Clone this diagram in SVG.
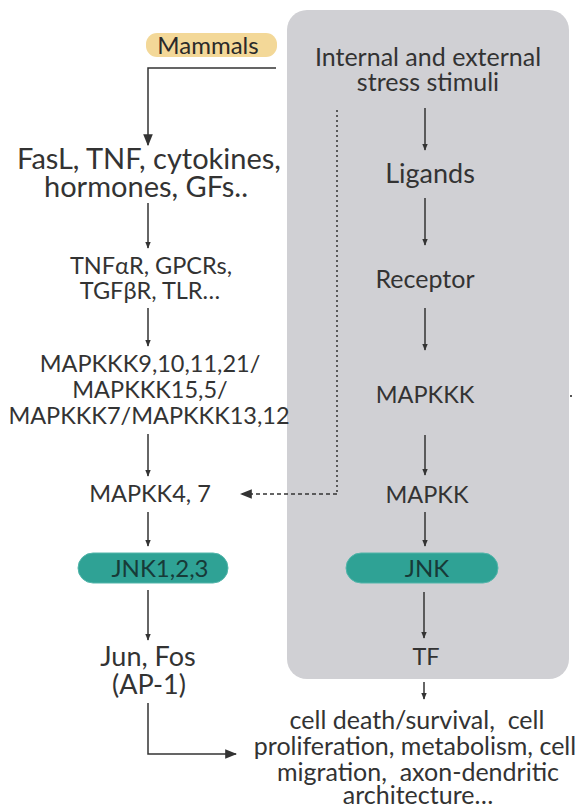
<svg xmlns="http://www.w3.org/2000/svg" width="583" height="809" viewBox="0 0 583 809">
<defs>
<style>
text{font-family:Lato,"Open Sans","Liberation Sans",sans-serif;fill:#333;text-anchor:middle}
.big{font-size:29px}
.mid{font-size:23.5px}
.rt{font-size:25px}
.ln{stroke:#333;stroke-width:1.5;fill:none}
.teal{fill:#2fa295;stroke:#52b5aa;stroke-width:1}
.pt{fill:#173a38;font-size:24px}
</style>
<marker id="ah" viewBox="0 0 10 10" refX="9" refY="5" markerWidth="7" markerHeight="7" orient="auto" markerUnits="userSpaceOnUse"><path d="M0,1 L10,5 L0,9 z" fill="#333"/></marker>
<marker id="ahb" viewBox="0 0 10 10" refX="9" refY="5" markerWidth="12" markerHeight="12" orient="auto" markerUnits="userSpaceOnUse"><path d="M0,1 L10,5 L0,9 z" fill="#333"/></marker>
</defs>
<rect x="287" y="10" width="282" height="669" rx="20" fill="#d0d0d4"/>
<g id="mammals"><rect x="146" y="33" width="131" height="24" rx="11" fill="#f3d898"/><text x="208" y="54" style="font-size:24px;fill:#2a2a2a">Mammals</text></g>
<g id="ligandsL"><text x="149" y="169" class="big">FasL, TNF, cytokines,</text><text x="146" y="197" class="big">hormones, GFs..</text></g>
<g id="receptorsL"><text x="151" y="274" class="mid">TNFαR, GPCRs,</text><text x="150" y="299" class="mid">TGFβR, TLR…</text></g>
<g id="mapkkkL"><text x="150" y="372" class="mid">MAPKKK9,10,11,21/</text><text x="150" y="398" class="mid">MAPKKK15,5/</text><text x="149" y="424" class="mid">MAPKKK7/MAPKKK13,12</text></g>
<g id="mapkkL"><text x="150" y="502" class="mid">MAPKK4, 7</text></g>
<g id="jnkL"><rect x="78" y="553" width="150" height="30" rx="15" class="teal"/><text x="160" y="577" class="pt">JNK1,2,3</text></g>
<g id="junfos"><text x="148" y="666" style="font-size:27px">Jun, Fos</text><text x="149" y="694" style="font-size:27px">(AP-1)</text></g>
<g id="stress"><text x="428" y="66" class="rt">Internal and external</text><text x="428" y="91" class="rt">stress stimuli</text></g>
<g id="ligands"><text x="430" y="183" style="font-size:27px">Ligands</text></g>
<g id="receptor"><text x="425" y="288" class="rt">Receptor</text></g>
<g id="mapkkk"><text x="425" y="403" class="mid">MAPKKK</text></g>
<g id="mapkk"><text x="427" y="503" class="mid">MAPKK</text></g>
<g id="jnk"><rect x="346" y="553" width="152" height="30" rx="15" class="teal"/><text x="427" y="577" class="pt">JNK</text></g>
<g id="tf"><text x="426" y="665" class="mid">TF</text></g>
<g id="outcome"><text x="417" y="729" class="rt" xml:space="preserve">cell death/survival,  cell</text><text x="415" y="755" class="rt">proliferation, metabolism, cell</text><text x="418" y="781" class="rt" xml:space="preserve">migration,  axon-dendritic</text><text x="418" y="804" class="rt">architecture…</text></g>
<g id="connectors">
<path class="ln" d="M276,68 H148 V145" marker-end="url(#ahb)"/>
<path class="ln" d="M148,203 V248" marker-end="url(#ah)"/>
<path class="ln" d="M148,308 V346" marker-end="url(#ah)"/>
<path class="ln" d="M148,434 V476" marker-end="url(#ah)"/>
<path class="ln" d="M148,512 V546" marker-end="url(#ah)"/>
<path class="ln" d="M148,590 V640" marker-end="url(#ah)"/>
<path class="ln" d="M148,703 V754 H236" marker-end="url(#ahb)"/>
<path class="ln" d="M337,110 V494" stroke-dasharray="2,3" stroke-width="2"/>
<path class="ln" d="M337,494 H241" stroke-dasharray="4,3" marker-end="url(#ahb)"/>
<path class="ln" d="M425,108 V150" marker-end="url(#ah)"/>
<path class="ln" d="M425,198 V245" marker-end="url(#ah)"/>
<path class="ln" d="M425,308 V350" marker-end="url(#ah)"/>
<path class="ln" d="M425,435 V475" marker-end="url(#ah)"/>
<path class="ln" d="M425,512 V546" marker-end="url(#ah)"/>
<path class="ln" d="M424,592 V638" marker-end="url(#ah)"/>
<path class="ln" d="M424,682 V699" marker-end="url(#ah)"/>
</g>
<rect x="570" y="395" width="2" height="2" fill="#555"/>
</svg>
